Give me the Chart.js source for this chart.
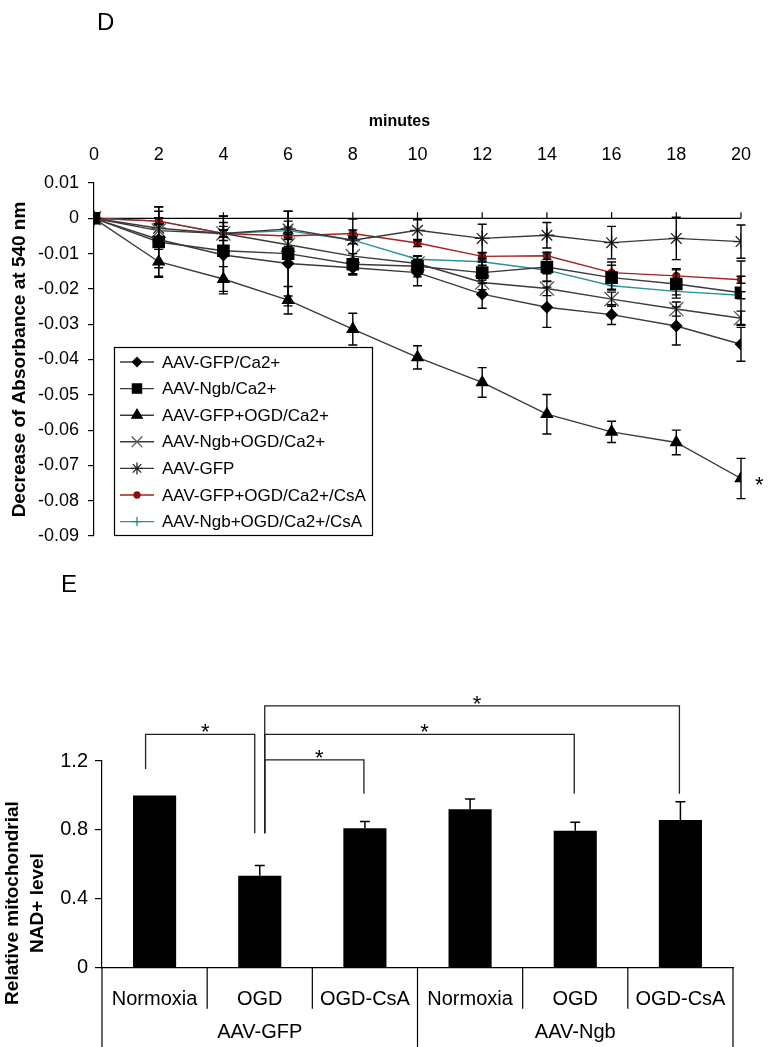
<!DOCTYPE html>
<html><head><meta charset="utf-8">
<script src="https://cdn.jsdelivr.net/npm/chart.js@4.4.1/dist/chart.umd.min.js"></script>
<style>
html,body{margin:0;padding:0;background:#fff;width:768px;height:1047px;overflow:hidden;font-family:"Liberation Sans",Arial,sans-serif;}
#wrapD{position:absolute;left:0;top:0;width:768px;height:560px;}
#wrapE{position:absolute;left:0;top:560px;width:768px;height:487px;}
.panel{position:absolute;font-size:24px;color:#000;z-index:5;line-height:normal;}
</style></head><body>
<div class="panel" style="left:97px;top:8px;">D</div>
<div class="panel" style="left:61px;top:570px;">E</div>
<div id="wrapD"><canvas id="cD"></canvas></div>
<div id="wrapE"><canvas id="cE"></canvas></div>
<script>
// ---------- Panel D data ----------
const minutes = [0,2,4,6,8,10,12,14,16,18,20];
const xTitleD = 'minutes';
const yTicksD = [0.01,0,-0.01,-0.02,-0.03,-0.04,-0.05,-0.06,-0.07,-0.08,-0.09];
const seriesNames = ['AAV-GFP/Ca2+','AAV-Ngb/Ca2+','AAV-GFP+OGD/Ca2+','AAV-Ngb+OGD/Ca2+','AAV-GFP','AAV-GFP+OGD/Ca2+/CsA','AAV-Ngb+OGD/Ca2+/CsA'];
const gfpCa        = [0,-0.0060,-0.0104,-0.0128,-0.0140,-0.0154,-0.0215,-0.0252,-0.0273,-0.0305,-0.0357];
const gfpCaErr     = [0,0.0080,0.0110,0.0120,0.0020,0.0037,0.0040,0.0057,0.0028,0.0054,0.0048];
const ngbCa        = [0,-0.0067,-0.0092,-0.0100,-0.0130,-0.0136,-0.0154,-0.0138,-0.0168,-0.0186,-0.0211];
const ngbCaErr     = [0,0.0100,0.0080,0.0120,0.0030,0.0030,0.0030,0.0040,0.0035,0.0040,0.0090];
const gfpOgdCa     = [0,-0.0123,-0.0172,-0.0232,-0.0314,-0.0394,-0.0465,-0.0555,-0.0605,-0.0635,-0.0737];
const gfpOgdCaErr  = [0,0.0041,0.0035,0.0039,0.0045,0.0033,0.0042,0.0056,0.0030,0.0035,0.0057];
const ngbOgdCa     = [0,-0.0035,-0.0043,-0.0075,-0.0107,-0.0128,-0.0182,-0.0199,-0.0229,-0.0257,-0.0283];
const ngbOgdCaErr  = [0,0.0020,0.0020,0.0020,0.0050,0.0020,0.0020,0.0020,0.0020,0.0020,0.0020];
const gfpOnly      = [0,-0.0028,-0.0043,-0.0030,-0.0062,-0.0034,-0.0057,-0.0048,-0.0069,-0.0057,-0.0066];
const gfpOnlyErr   = [0,0.0060,0.0050,0.0050,0.0060,0.0030,0.0040,0.0036,0.0046,0.0060,0.0047];
const gfpOgdCsa    = [0,-0.0008,-0.0043,-0.0050,-0.0043,-0.0070,-0.0108,-0.0106,-0.0154,-0.0163,-0.0174];
const gfpOgdCsaErr = [0,0.0010,0.0010,0.0010,0.0010,0.0010,0.0010,0.0010,0.0030,0.0020,0.0010];
const ngbOgdCsa    = [0,-0.0008,-0.0043,-0.0035,-0.0062,-0.0116,-0.0123,-0.0147,-0.0191,-0.0207,-0.0218];
const ngbOgdCsaErr = [0,0.0010,0.0010,0.0010,0.0010,0.0010,0.0010,0.0010,0.0010,0.0010,0.0010];

// ---------- Panel E data ----------
const categories = ['Normoxia','OGD','OGD-CsA','Normoxia','OGD','OGD-CsA'];
const groups = ['AAV-GFP','AAV-Ngb'];
const nadLevel = [1.0,0.534,0.809,0.92,0.795,0.857];
const nadErr   = [0,0.06,0.04,0.06,0.05,0.107];
const yTicksE = [0,0.4,0.8,1.2];
const sigFrom = [0,1,1,1];
const sigTo   = [1,2,4,5];
const sigTop  = [1.355,1.206,1.355,1.52];
const sigFromFoot = [1.154,0.78,0.78,0.78];
const sigToFoot   = [0.78,1.01,1.01,1.01];

const FONT = '"Liberation Sans", Arial, sans-serif';
Chart.defaults.font.family = FONT;
Chart.defaults.color = '#000';

// ---------- Panel D ----------
const LINE = '#3a3a3a';
const styleD = [
  {pointStyle:'rectRot', r:5.5, fill:'#000', stroke:'#000', line:LINE, lr:4.5},
  {pointStyle:'rect', r:8, fill:'#000', stroke:'#000', line:LINE, lr:6.5},
  {pointStyle:'triangle', r:6.5, fill:'#000', stroke:'#000', line:LINE, lr:6},
  {pointStyle:'crossRot', r:10, fill:'#555', stroke:'#555', line:LINE, lr:7.5},
  {pointStyle:'star', r:7.5, fill:'#222', stroke:'#222', line:LINE, lr:6},
  {pointStyle:'circle', r:3.5, fill:'#8b1010', stroke:'#8b1010', line:'#a02222', lr:3},
  {pointStyle:'cross', r:4, fill:'#1f8a8a', stroke:'#1f8a8a', line:'#2a9494', lr:4.5}
];
const valsD = [gfpCa,ngbCa,gfpOgdCa,ngbOgdCa,gfpOnly,gfpOgdCsa,ngbOgdCsa];
const errsD = [gfpCaErr,ngbCaErr,gfpOgdCaErr,ngbOgdCaErr,gfpOnlyErr,gfpOgdCsaErr,ngbOgdCsaErr];
const datasetsD = valsD.map((vals,k)=>({
  label: seriesNames[k],
  data: minutes.map((m,i)=>({x:m,y:vals[i]})),
  errors: errsD[k],
  borderColor: styleD[k].line,
  borderWidth: 1.4,
  pointStyle: styleD[k].pointStyle,
  pointRadius: styleD[k].r,
  pointBackgroundColor: styleD[k].fill,
  pointBorderColor: styleD[k].stroke,
  pointBorderWidth: 1.3,
  tension: 0,
  fill: false
}));

const zeroAxisPlugin = {
  id:'zeroAxis',
  beforeDatasetsDraw(chart){
    const {ctx} = chart; const xs = chart.scales.x, ys = chart.scales.y;
    const y0 = ys.getPixelForValue(0);
    ctx.save(); ctx.strokeStyle='#000'; ctx.lineWidth=1.2;
    ctx.beginPath(); ctx.moveTo(xs.left,y0); ctx.lineTo(xs.right,y0);
    xs.ticks.forEach(t=>{ const px = xs.getPixelForValue(t.value); ctx.moveTo(px,y0); ctx.lineTo(px,y0-6); });
    ctx.stroke();
    // axis title above the tick labels
    ctx.fillStyle='#000'; ctx.font='bold 16px '+FONT; ctx.textAlign='center'; ctx.textBaseline='middle';
    ctx.fillText(xTitleD, (xs.left+xs.right)/2 - 18, 122);
    ctx.restore();
  }
};
const errorBarPluginD = {
  id:'errD',
  afterDatasetsDraw(chart){
    const {ctx} = chart; const ys = chart.scales.y;
    ctx.save(); ctx.strokeStyle='#000'; ctx.lineWidth=1.4;
    chart.data.datasets.forEach((ds,k)=>{
      const meta = chart.getDatasetMeta(k);
      meta.data.forEach((pt,i)=>{
        const e = ds.errors[i]; if(!e) return;
        const v = ds.data[i].y;
        const yt = ys.getPixelForValue(v+e), yb = ys.getPixelForValue(v-e);
        ctx.beginPath();
        ctx.moveTo(pt.x,yt); ctx.lineTo(pt.x,yb);
        ctx.moveTo(pt.x-4.5,yt); ctx.lineTo(pt.x+4.5,yt);
        ctx.moveTo(pt.x-4.5,yb); ctx.lineTo(pt.x+4.5,yb);
        ctx.stroke();
      });
    });
    const m = chart.getDatasetMeta(2); const last = m.data[m.data.length-1];
    ctx.fillStyle='#000'; ctx.font='22px '+FONT; ctx.textAlign='left'; ctx.textBaseline='alphabetic';
    ctx.fillText('*', last.x+14, last.y+14);
    ctx.restore();
  }
};
const legendPluginD = {
  id:'legD',
  afterDraw(chart){
    const {ctx} = chart;
    const bx=114, by=347, bw=258, bh=188;
    ctx.save();
    ctx.fillStyle='#fff'; ctx.fillRect(bx,by,bw,bh);
    ctx.strokeStyle='#000'; ctx.lineWidth=1.2; ctx.strokeRect(bx+0.5,by+0.5,bw,bh);
    ctx.font='17px '+FONT; ctx.textBaseline='middle'; ctx.textAlign='left';
    chart.data.datasets.forEach((ds,k)=>{
      const y = by+15+k*26.6;
      ctx.strokeStyle = ds.borderColor; ctx.lineWidth=1.4;
      ctx.beginPath(); ctx.moveTo(bx+6,y); ctx.lineTo(bx+40,y); ctx.stroke();
      ctx.fillStyle = ds.pointBackgroundColor; ctx.strokeStyle = ds.pointBorderColor; ctx.lineWidth=1.3;
      Chart.helpers.drawPoint(ctx,{pointStyle:ds.pointStyle, radius:styleD[k].lr, borderWidth:1.3, rotation:0}, bx+23, y);
      ctx.fillStyle='#000';
      ctx.fillText(ds.label, bx+48, y+1);
    });
    ctx.restore();
  }
};

new Chart(document.getElementById('cD'),{
  type:'line',
  data:{datasets:datasetsD},
  options:{
    responsive:true, maintainAspectRatio:false, animation:false,
    layout:{padding:{left:0,right:25,top:0,bottom:24}},
    plugins:{legend:{display:false}, tooltip:{enabled:false}},
    scales:{
      x:{type:'linear', position:'top', min:0, max:20,
        afterBuildTicks:s=>{s.ticks = minutes.map(v=>({value:v}));},
        grid:{display:false, drawTicks:false}, border:{display:false},
        ticks:{padding:17, font:{size:18}, color:'#000', maxRotation:0, autoSkip:false},
        afterFit:s=>{s.height=183;}
      },
      y:{type:'linear', min:-0.09, max:0.01,
        afterBuildTicks:s=>{s.ticks = yTicksD.map(v=>({value:v}));},
        grid:{display:true, drawOnChartArea:false, drawTicks:true, tickLength:6, color:'#000', lineWidth:1.2},
        border:{display:true, color:'#000', width:1.2},
        ticks:{padding:9, font:{size:18}, color:'#000', autoSkip:false,
          callback:v=>{const r=Math.round(v*100)/100; return r===0?'0':r.toFixed(2);}},
        title:{display:true, text:'Decrease of Absorbance at 540 nm', font:{size:19, weight:'bold'}, color:'#000', padding:{top:8,bottom:0}},
        afterFit:s=>{s.width=94;}
      }
    }
  },
  plugins:[zeroAxisPlugin, errorBarPluginD, legendPluginD]
});

// ---------- Panel E ----------
const legOffsets = [[-9,-5],[5,-1],[5,-1],[5,-1]];
const barExtrasPlugin = {
  id:'barExtras',
  afterDraw(chart){
    const {ctx, chartArea} = chart; const xs = chart.scales.x, ys = chart.scales.y;
    const meta = chart.getDatasetMeta(0);
    ctx.save();
    ctx.strokeStyle='#000'; ctx.lineWidth=1.5;
    meta.data.forEach((bar,i)=>{
      const e = nadErr[i]; if(!e) return;
      const yt = ys.getPixelForValue(nadLevel[i]+e), yb = ys.getPixelForValue(nadLevel[i]);
      ctx.beginPath(); ctx.moveTo(bar.x,yb); ctx.lineTo(bar.x,yt);
      ctx.moveTo(bar.x-5,yt); ctx.lineTo(bar.x+5,yt); ctx.stroke();
    });
    const n = categories.length, per = n/groups.length;
    ctx.lineWidth=1.2;
    for(let i=0;i<=n;i++){
      const bx = i===0 ? xs.left : i===n ? xs.right : (xs.getPixelForValue(i-1)+xs.getPixelForValue(i))/2;
      const long = (i%per===0);
      ctx.beginPath(); ctx.moveTo(bx,chartArea.bottom); ctx.lineTo(bx, long ? chart.height : chartArea.bottom+41); ctx.stroke();
    }
    ctx.lineWidth=1.3; ctx.strokeStyle='#222';
    ctx.fillStyle='#000'; ctx.font='22px '+FONT; ctx.textAlign='center'; ctx.textBaseline='alphabetic';
    sigFrom.forEach((f,k)=>{
      const x1 = meta.data[f].x + legOffsets[k][0], x2 = meta.data[sigTo[k]].x + legOffsets[k][1];
      const yT = ys.getPixelForValue(sigTop[k]);
      ctx.beginPath();
      ctx.moveTo(x1, ys.getPixelForValue(sigFromFoot[k])); ctx.lineTo(x1,yT); ctx.lineTo(x2,yT); ctx.lineTo(x2, ys.getPixelForValue(sigToFoot[k]));
      ctx.stroke();
      ctx.fillText('*', (x1+x2)/2+5, yT+5);
    });
    ctx.save();
    ctx.translate(0, 343); ctx.rotate(-Math.PI/2);
    ctx.font='bold 19px '+FONT; ctx.textAlign='center'; ctx.textBaseline='middle'; ctx.fillStyle='#000';
    ctx.fillText('Relative mitochondrial', 0, 13);
    ctx.fillText('NAD+ level', 0, 38);
    ctx.restore();
    ctx.restore();
  }
};

new Chart(document.getElementById('cE'),{
  type:'bar',
  data:{labels:categories, datasets:[{data:nadLevel, backgroundColor:'#000', borderWidth:0, barPercentage:0.41, categoryPercentage:1}]},
  options:{
    responsive:true, maintainAspectRatio:false, animation:false,
    layout:{padding:{left:0,right:35,top:201,bottom:0}},
    plugins:{legend:{display:false}, tooltip:{enabled:false}},
    scales:{
      x:{type:'category', position:'bottom', offset:true, weight:0,
        grid:{display:false, drawTicks:false}, border:{display:true, color:'#000', width:1.2},
        ticks:{padding:20, font:{size:20}, color:'#000', maxRotation:0, autoSkip:false},
        afterFit:s=>{s.height=40;}
      },
      x2:{type:'category', position:'bottom', offset:true, weight:1, labels:groups,
        grid:{display:false, drawTicks:false}, border:{display:false},
        ticks:{padding:13, font:{size:20}, color:'#000', maxRotation:0, autoSkip:false},
        afterFit:s=>{s.height=39.3;}
      },
      y:{type:'linear', min:0, max:1.2,
        afterBuildTicks:s=>{s.ticks = yTicksE.map(v=>({value:v}));},
        grid:{display:true, drawOnChartArea:false, drawTicks:true, tickLength:7, color:'#000', lineWidth:1.2},
        border:{display:true, color:'#000', width:1.2},
        ticks:{padding:7, font:{size:20}, color:'#000', autoSkip:false, callback:v=> v===0?'0':v.toFixed(1)},
        afterFit:s=>{s.width=102;}
      }
    }
  },
  plugins:[barExtrasPlugin]
});
</script>
</body></html>
